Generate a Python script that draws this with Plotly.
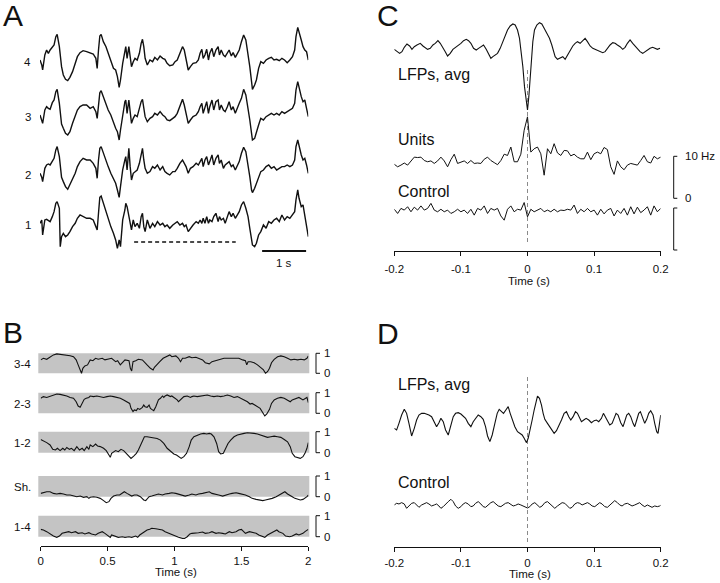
import numpy as np
import plotly.graph_objects as go

W, H = 720, 583
FONT = "Liberation Sans, Arial, Helvetica, sans-serif"
INK = "#111111"

# ====================== DATA ======================
# ---- Panel A: four simultaneously recorded LFP channels (uV), shared time base (s)
a_time = [0.00, 0.04, 0.06, 0.11, 0.15, 0.19, 0.23, 0.28, 0.32, 0.36,
          0.39, 0.44, 0.46, 0.49, 0.53, 0.58, 0.63, 0.68, 0.74, 0.80,
          0.85, 0.91, 0.98, 1.06, 1.14, 1.21, 1.27, 1.30, 1.33, 1.36,
          1.39, 1.44, 1.50, 1.55, 1.61, 1.67, 1.72, 1.76, 1.80, 1.83,
          1.88, 1.93, 1.95, 1.98, 2.02, 2.05, 2.08, 2.12, 2.16, 2.21,
          2.26, 2.30, 2.33, 2.36, 2.39, 2.44, 2.50, 2.56, 2.61, 2.67,
          2.73, 2.79, 2.84, 2.89, 2.95, 3.02, 3.07, 3.12, 3.18, 3.24,
          3.28, 3.32, 3.37, 3.42, 3.48, 3.55, 3.60, 3.64, 3.68, 3.71,
          3.75, 3.79, 3.83, 3.86, 3.91, 3.95, 4.00, 4.05, 4.08, 4.12,
          4.17, 4.21, 4.26, 4.30, 4.35, 4.39, 4.44, 4.48, 4.53, 4.58,
          4.63, 4.68, 4.73, 4.77, 4.81, 4.83, 4.88, 4.92, 4.97, 5.02,
          5.08, 5.14, 5.20, 5.26, 5.32, 5.38, 5.44, 5.50, 5.56, 5.62,
          5.68, 5.74, 5.79, 5.82, 5.86, 5.89, 5.94, 5.98, 6.02, 6.06,
          6.10]
a_ch4 = [0, -150, -300, 150, 300, 200, 300, 400, 450, 700,
         770, 400, 100, -200, -450, -580, -620, -520, -350, -100,
         100, 220, 280, 250, 220, 180, 50, -250, 300, 720,
         770, 550, 400, 200, 0, -250, -300, -500, -820, -600,
         -100, 300, 400, 50, 400, 100, -200, -50, 50, 0,
         200, 500, 620, 400, 50, -150, 0, -50, 80, 0,
         120, 50, 20, -100, -170, -150, -50, 0, 200, 400,
         300, 50, -300, -200, -100, -80, 0, 200, 320, 50,
         150, 320, 0, 200, 350, 100, 300, 400, 150, 300,
         150, 100, 220, 300, 120, 220, 80, 200, 300, 550,
         750, 600, 200, -200, -650, -880, -750, -600, -250, -50,
         -100, 0, 50, 80, 0, 20, -20, 50, 0, -80,
         0, 100, 300, 700, 980, 800, 600, 400, 300, 250,
         0]
a_ch3 = [0, -130, -250, 150, 250, 200, 170, 370, 450, 700,
         770, 350, 50, -270, -400, -550, -600, -500, -250, 0,
         150, 250, 300, 300, 200, 250, 100, -100, 350, 670,
         730, 550, 350, 150, 0, -250, -400, -500, -750, -450,
         50, 400, 450, 50, 450, 50, -250, -100, 0, -50,
         250, 400, 470, 250, -50, -200, -100, -50, 50, 0,
         100, 0, -50, -150, -170, -100, -50, 50, 250, 470,
         300, 0, -250, -150, -50, 0, 100, 250, 350, 50,
         250, 400, 50, 250, 450, 150, 400, 450, 150, 300,
         150, 100, 250, 400, 150, 250, 50, 200, 350, 500,
         770, 600, 250, -150, -550, -750, -700, -500, -300, -100,
         -150, -50, 0, 50, 0, 50, 0, 100, 50, 100,
         150, 200, 350, 750, 1000, 800, 550, 400, 450, 200,
         -50]
a_ch2 = [0, -120, -250, 150, 250, 280, 250, 370, 450, 700,
         800, 500, 200, -120, -250, -400, -480, -350, -200, 0,
         200, 350, 450, 400, 400, 300, 150, -150, 400, 750,
         800, 600, 400, 200, 0, -150, -300, -500, -720, -400,
         100, 400, 500, 100, 750, 200, -200, 0, 50, 100,
         300, 550, 750, 400, 150, 0, 50, 200, 150, 250,
         100, 200, 50, 0, -50, 50, 50, 150, 300, 400,
         300, 200, 0, 150, 200, 300, 250, 350, 450, 200,
         400, 500, 250, 350, 550, 250, 450, 550, 300, 400,
         150, 250, 300, 350, 200, 250, 100, 200, 350, 600,
         780, 650, 300, -100, -500, -580, -450, -300, -100, 50,
         100, 200, 250, 150, 200, 100, 150, 200, 200, 250,
         200, 250, 400, 800, 1000, 800, 550, 400, 450, 250,
         0]
a_ch1 = [0, 100, -350, 100, 120, 80, 50, 200, 350, 600,
         650, 450, -700, -400, -300, -400, -350, -250, -100, 0,
         150, 250, 200, 150, 150, 100, -100, -200, 300, 780,
         820, 600, 350, 100, -100, -300, -500, -750, -500, -700,
         100, 400, 600, 500, 200, 0, -200, 100, -100, 0,
         -150, 200, 300, -100, -250, 100, -150, 0, -100, 50,
         -50, 0, -100, -50, -150, -50, 0, 50, -50, 0,
         -100, -50, -250, -150, -50, 50, 0, 100, 0, 150,
         0, 200, 0, 100, 50, 200, 300, 50, 200, 100,
         150, 0, 200, 350, 200, 300, 150, 250, 350, 550,
         650, 450, 200, -150, -500, -650, -700, -600, -350, -250,
         -50, -150, 50, 0, 100, 150, 50, 250, 100, 200,
         150, 250, 350, 700, 1000, 750, 500, 550, 250, -100,
         -400]
a_channels = ["4", "3", "2", "1"]
a_underline_s = [2.14, 4.45]      # dashed underline below channel 1 (s)
a_scalebar_s = [5.05, 6.05]       # 1 s scale bar
a_scalebar_label = "1 s"

# ---- Panel B: pairwise correlation over 2 s (0..1)
b_pairs = ["3-4", "2-3", "1-2", "Sh.", "1-4"]
b34_t = [0, 0.02, 0.045, 0.07, 0.095, 0.12, 0.145, 0.17, 0.195, 0.22,
         0.245, 0.265, 0.28, 0.295, 0.305, 0.315, 0.33, 0.35, 0.37, 0.39,
         0.41, 0.43, 0.46, 0.48, 0.51, 0.53, 0.56, 0.575, 0.595, 0.615,
         0.63, 0.66, 0.67, 0.68, 0.69, 0.71, 0.73, 0.76, 0.775, 0.795,
         0.82, 0.84, 0.85, 0.87, 0.89, 0.915, 0.94, 0.965, 0.98, 1.01,
         1.03, 1.045, 1.06, 1.08, 1.11, 1.13, 1.16, 1.18, 1.21, 1.23,
         1.26, 1.28, 1.31, 1.33, 1.37, 1.41, 1.445, 1.48, 1.51, 1.53,
         1.54, 1.55, 1.57, 1.595, 1.62, 1.645, 1.665, 1.68, 1.695, 1.71,
         1.725, 1.745, 1.77, 1.795, 1.82, 1.845, 1.87, 1.895, 1.92, 1.945,
         1.97, 1.99, 2.0]
b34_v = [0.67, 0.75, 0.70, 0.83, 0.92, 0.97, 0.95, 0.92, 0.90, 0.88,
         0.83, 0.67, 0.42, 0.17, 0.0, 0.25, 0.37, 0.42, 0.67, 0.63,
         0.75, 0.70, 0.75, 0.67, 0.70, 0.75, 0.58, 0.63, 0.42, 0.58,
         0.67, 0.63, 0.25, 0.12, 0.58, 0.63, 0.70, 0.67, 0.58, 0.42,
         0.25, 0.17, 0.30, 0.47, 0.58, 0.75, 0.83, 0.92, 0.83, 0.87,
         0.75, 0.58, 0.75, 0.75, 0.83, 0.78, 0.80, 0.75, 0.67, 0.53,
         0.47, 0.58, 0.63, 0.70, 0.75, 0.75, 0.75, 0.75, 0.67, 0.63,
         0.42, 0.58, 0.58, 0.53, 0.42, 0.30, 0.17, 0.0, 0.08, 0.25,
         0.53, 0.70, 0.83, 0.87, 0.83, 0.75, 0.67, 0.70, 0.67, 0.70,
         0.67, 0.75, 0.87]
b23_t = [0, 0.02, 0.045, 0.07, 0.095, 0.12, 0.145, 0.17, 0.195, 0.22,
         0.245, 0.265, 0.28, 0.295, 0.31, 0.325, 0.34, 0.36, 0.37, 0.395,
         0.42, 0.445, 0.47, 0.495, 0.52, 0.545, 0.57, 0.595, 0.62, 0.645,
         0.665, 0.675, 0.69, 0.70, 0.715, 0.725, 0.74, 0.76, 0.77, 0.78,
         0.795, 0.81, 0.82, 0.83, 0.845, 0.86, 0.87, 0.88, 0.895, 0.91,
         0.92, 0.93, 0.945, 0.96, 0.97, 0.98, 0.995, 1.01, 1.02, 1.03,
         1.045, 1.06, 1.07, 1.095, 1.12, 1.13, 1.145, 1.17, 1.195, 1.22,
         1.245, 1.27, 1.295, 1.32, 1.345, 1.37, 1.395, 1.42, 1.445, 1.47,
         1.495, 1.52, 1.545, 1.565, 1.58, 1.60, 1.62, 1.64, 1.66, 1.675,
         1.69, 1.71, 1.725, 1.745, 1.77, 1.795, 1.82, 1.845, 1.865, 1.88,
         1.91, 1.93, 1.96, 1.975, 1.99, 2.0]
b23_v = [0.73, 0.81, 0.77, 0.84, 0.89, 0.94, 0.92, 0.89, 0.84, 0.77,
         0.73, 0.56, 0.35, 0.29, 0.48, 0.68, 0.73, 0.77, 0.84, 0.81,
         0.84, 0.81, 0.77, 0.81, 0.84, 0.81, 0.77, 0.73, 0.65, 0.56,
         0.48, 0.24, 0.08, 0.16, 0.13, 0.24, 0.19, 0.29, 0.40, 0.32,
         0.29, 0.40, 0.24, 0.19, 0.13, 0.32, 0.48, 0.65, 0.73, 0.84,
         0.77, 0.84, 0.89, 0.84, 0.81, 0.84, 0.77, 0.73, 0.65, 0.56,
         0.65, 0.73, 0.81, 0.84, 0.77, 0.81, 0.84, 0.81, 0.84, 0.87,
         0.89, 0.84, 0.81, 0.84, 0.81, 0.84, 0.89, 0.84, 0.77, 0.81,
         0.73, 0.65, 0.56, 0.45, 0.48, 0.40, 0.32, 0.24, 0.03, -0.13,
         -0.03, 0.19, 0.48, 0.65, 0.73, 0.77, 0.73, 0.65, 0.56, 0.65,
         0.73, 0.77, 0.65, 0.73, 0.77, 0.52]
b12_t = [0, 0.02, 0.045, 0.07, 0.09, 0.11, 0.125, 0.145, 0.165, 0.18,
         0.195, 0.215, 0.23, 0.25, 0.27, 0.29, 0.31, 0.325, 0.345, 0.36,
         0.37, 0.39, 0.41, 0.425, 0.445, 0.47, 0.49, 0.51, 0.52, 0.53,
         0.56, 0.58, 0.60, 0.62, 0.64, 0.66, 0.675, 0.695, 0.715, 0.73,
         0.745, 0.76, 0.775, 0.795, 0.82, 0.845, 0.87, 0.895, 0.92, 0.945,
         0.97, 0.995, 1.015, 1.03, 1.05, 1.07, 1.09, 1.11, 1.125, 1.145,
         1.17, 1.195, 1.22, 1.24, 1.26, 1.275, 1.295, 1.315, 1.33, 1.345,
         1.365, 1.38, 1.40, 1.42, 1.445, 1.47, 1.495, 1.52, 1.545, 1.57,
         1.595, 1.62, 1.645, 1.67, 1.695, 1.72, 1.745, 1.77, 1.795, 1.82,
         1.845, 1.865, 1.88, 1.90, 1.92, 1.94, 1.96, 1.975, 1.99, 2.0]
b12_v = [0.63, 0.57, 0.48, 0.37, 0.16, 0.13, 0.21, 0.10, 0.21, 0.13,
         0.25, 0.16, 0.21, 0.10, 0.29, 0.13, 0.21, 0.10, 0.29, 0.16,
         0.37, 0.29, 0.41, 0.32, 0.29, 0.21, 0.10, -0.11, -0.22, -0.03,
         0.10, 0.05, 0.16, 0.10, -0.03, -0.16, -0.27, -0.16, -0.03, 0.13,
         0.37, 0.60, 0.76, 0.76, 0.73, 0.73, 0.68, 0.60, 0.44, 0.21,
         0.05, -0.06, -0.11, -0.19, -0.27, -0.19, -0.03, 0.29, 0.60, 0.76,
         0.84, 0.89, 0.92, 0.89, 0.92, 0.89, 0.76, 0.44, 0.05, -0.06,
         -0.03, 0.21, 0.44, 0.60, 0.76, 0.84, 0.89, 0.92, 0.95, 0.95,
         0.92, 0.89, 0.84, 0.79, 0.73, 0.76, 0.79, 0.76, 0.73, 0.63,
         0.52, 0.29, -0.03, -0.19, -0.22, -0.27, -0.19, -0.03, 0.21, 0.48]
bsh_t = [0, 0.02, 0.045, 0.07, 0.095, 0.12, 0.145, 0.17, 0.195, 0.22,
         0.245, 0.27, 0.295, 0.32, 0.345, 0.36, 0.37, 0.395, 0.42, 0.445,
         0.47, 0.49, 0.51, 0.525, 0.545, 0.57, 0.59, 0.61, 0.625, 0.645,
         0.665, 0.68, 0.70, 0.72, 0.745, 0.77, 0.785, 0.795, 0.81, 0.83,
         0.86, 0.88, 0.91, 0.93, 0.96, 0.98, 1.01, 1.03, 1.06, 1.08,
         1.11, 1.13, 1.16, 1.18, 1.21, 1.23, 1.26, 1.28, 1.31, 1.33,
         1.36, 1.38, 1.41, 1.43, 1.46, 1.48, 1.51, 1.53, 1.56, 1.58,
         1.61, 1.63, 1.66, 1.68, 1.71, 1.73, 1.76, 1.78, 1.81, 1.825,
         1.845, 1.865, 1.88, 1.90, 1.92, 1.94, 1.96, 1.975, 1.99, 2.0]
bsh_v = [0.16, 0.19, 0.24, 0.24, 0.16, 0.13, 0.16, 0.13, 0.08, 0.08,
         0.03, 0.0, 0.03, -0.03, 0.0, -0.08, -0.03, 0.0, -0.03, -0.08,
         -0.19, -0.29, -0.24, -0.08, 0.03, 0.08, 0.08, 0.16, 0.24, 0.16,
         0.08, 0.03, 0.08, 0.08, 0.0, -0.16, -0.19, -0.13, 0.0, 0.03,
         0.08, 0.13, 0.08, 0.13, 0.16, 0.19, 0.16, 0.13, 0.08, 0.03,
         0.08, 0.13, 0.08, 0.13, 0.16, 0.19, 0.24, 0.16, 0.13, 0.08,
         0.03, 0.08, 0.13, 0.16, 0.19, 0.16, 0.13, 0.08, 0.0, -0.08,
         -0.13, -0.16, -0.19, -0.16, -0.13, -0.08, 0.0, 0.08, 0.19, 0.24,
         0.13, 0.03, 0.0, -0.08, -0.13, -0.16, -0.13, -0.08, 0.0, 0.08]
b14_t = [0, 0.02, 0.045, 0.07, 0.095, 0.12, 0.14, 0.16, 0.18, 0.21,
         0.23, 0.26, 0.28, 0.31, 0.33, 0.36, 0.38, 0.41, 0.43, 0.46,
         0.48, 0.51, 0.52, 0.53, 0.56, 0.58, 0.61, 0.63, 0.66, 0.68,
         0.71, 0.725, 0.74, 0.76, 0.775, 0.795, 0.815, 0.83, 0.86, 0.88,
         0.91, 0.93, 0.96, 0.98, 1.01, 1.03, 1.06, 1.075, 1.095, 1.115,
         1.13, 1.16, 1.18, 1.21, 1.23, 1.26, 1.28, 1.31, 1.33, 1.36,
         1.38, 1.41, 1.43, 1.46, 1.48, 1.50, 1.515, 1.53, 1.56, 1.58,
         1.61, 1.63, 1.66, 1.675, 1.695, 1.72, 1.745, 1.765, 1.78, 1.81,
         1.83, 1.86, 1.88, 1.91, 1.93, 1.96, 1.975, 1.99, 2.0]
b14_v = [0.35, 0.32, 0.24, 0.13, 0.03, -0.03, 0.03, 0.16, 0.19, 0.24,
         0.19, 0.24, 0.16, 0.19, 0.13, 0.19, 0.13, 0.08, 0.16, 0.24,
         0.16, 0.03, -0.03, 0.08, 0.03, -0.03, 0.0, -0.03, 0.0, -0.03,
         0.03, -0.03, 0.08, 0.16, 0.24, 0.32, 0.35, 0.40, 0.38, 0.35,
         0.32, 0.24, 0.16, 0.08, 0.03, -0.03, -0.08, -0.08, 0.0, 0.13,
         0.16, 0.16, 0.19, 0.22, 0.16, 0.19, 0.24, 0.16, 0.19, 0.16,
         0.13, 0.24, 0.19, 0.24, 0.32, 0.35, 0.24, 0.16, 0.24, 0.22,
         0.16, 0.08, 0.03, -0.03, 0.08, 0.16, 0.24, 0.32, 0.24, 0.16,
         0.03, 0.0, 0.03, 0.13, 0.08, 0.16, 0.24, 0.32, 0.35]
b_ticks = [0, 0.5, 1, 1.5, 2]
b_ticktext = ["0", "0.5", "1", "1.5", "2"]
b_band = [0, 1]

# ---- Panel C: spike-triggered LFP average (uV), unit PSTH and control (Hz)
c_lfp_t = [-0.2, -0.196, -0.192, -0.1885, -0.185, -0.181, -0.177, -0.1735, -0.17, -0.166,
           -0.161, -0.157, -0.1535, -0.15, -0.146, -0.142, -0.1385, -0.1345, -0.131, -0.127,
           -0.1235, -0.12, -0.116, -0.112, -0.108, -0.104, -0.1, -0.096, -0.092, -0.0885,
           -0.085, -0.081, -0.077, -0.0735, -0.07, -0.066, -0.062, -0.058, -0.055, -0.052,
           -0.0485, -0.045, -0.041, -0.037, -0.0335, -0.03, -0.026, -0.022, -0.0185, -0.015,
           -0.012, -0.0095, -0.007, -0.0045, -0.002, 0.0, 0.002, 0.004, 0.006, 0.008,
           0.0105, 0.014, 0.018, 0.0215, 0.025, 0.029, 0.033, 0.0365, 0.039, 0.0415,
           0.045, 0.049, 0.053, 0.0565, 0.06, 0.064, 0.068, 0.0715, 0.075, 0.079,
           0.083, 0.0865, 0.09, 0.094, 0.098, 0.1015, 0.105, 0.109, 0.113, 0.1165,
           0.12, 0.124, 0.128, 0.1315, 0.135, 0.139, 0.143, 0.1465, 0.15, 0.154,
           0.158, 0.1615, 0.165, 0.169, 0.173, 0.1765, 0.18, 0.184, 0.188, 0.1915,
           0.195, 0.199]
c_lfp_v = [2, -5, -10, -5, 8, 18, 12, 2, 10, 15,
           20, 12, 8, 2, 5, 15, 20, 28, 20, 8,
           -5, -18, -10, 2, 8, 12, 20, 28, 32, 28,
           20, 5, 0, 5, 10, 15, 2, -15, -25, -20,
           -15, -10, 5, 25, 45, 60, 72, 78, 75, 60,
           35, 0, -50, -110, -160, -180, -140, -80, -20, 25,
           60, 75, 82, 78, 65, 50, 35, 15, -5, -20,
           -28, -25, -20, -28, -15, 0, 12, 20, 25, 20,
           28, 35, 25, 12, 5, 2, 0, -5, -8, -5,
           5, 15, 22, 20, 15, 10, 2, 8, 20, 30,
           20, 12, 5, -5, -10, -5, 0, 5, 8, 5,
           2, 5]
c_bin_start, c_bin_width = -0.2, 0.005
c_units_hz = [8.1, 7.5, 7.9, 8.4, 7.9, 8.9, 9.8, 9.7, 9.8, 9.0,
              8.7, 8.9, 8.3, 8.9, 9.8, 8.9, 7.5, 9.2, 10.5, 8.3,
              8.7, 8.9, 8.3, 9.0, 8.3, 8.4, 8.3, 9.3, 9.8, 9.0,
              8.5, 8.0, 9.0, 10.5, 10.2, 12.2, 8.7, 8.7, 10.5, 16.2,
              19.4, 11.0, 11.8, 12.2, 10.6, 5.5, 11.8, 10.6, 13.0, 10.8,
              10.2, 11.4, 11.3, 10.1, 10.5, 9.8, 9.4, 9.4, 11.0, 9.2,
              10.6, 11.0, 10.6, 12.1, 11.6, 7.5, 5.7, 8.9, 7.5, 6.8,
              7.9, 8.3, 8.1, 7.9, 9.0, 10.2, 8.7, 8.4, 10.0, 9.4,
              9.8]
c_control_hz = [9.7, 8.7, 9.9, 9.5, 10.3, 9.1, 10.2, 9.5, 10.5, 9.5,
                9.9, 11.1, 9.5, 9.1, 9.7, 9.1, 9.5, 8.7, 9.1, 9.7,
                9.1, 9.5, 8.7, 9.7, 8.3, 9.9, 9.5, 10.5, 8.7, 9.9,
                9.5, 9.9, 8.1, 7.1, 9.7, 10.5, 9.1, 9.7, 9.5, 11.3,
                7.9, 9.7, 9.1, 9.5, 9.9, 9.1, 9.5, 9.1, 9.7, 9.1,
                9.5, 9.4, 9.7, 9.5, 10.7, 8.7, 9.7, 9.1, 9.9, 9.1,
                9.5, 8.3, 9.7, 8.6, 9.5, 9.9, 8.1, 9.5, 8.7, 9.9,
                8.3, 10.3, 8.6, 10.2, 8.9, 9.5, 10.3, 8.3, 10.5, 9.1,
                9.9]
c_scale_hz = 10
cd_ticks = [-0.2, -0.1, 0, 0.1, 0.2]
cd_ticktext = ["-0.2", "-0.1", "0", "0.1", "0.2"]

# ---- Panel D: LFP average (uV) and control
d_lfp_t = [-0.2, -0.1965, -0.193, -0.189, -0.185, -0.1815, -0.178, -0.174, -0.17, -0.1665,
           -0.163, -0.159, -0.155, -0.1515, -0.148, -0.144, -0.14, -0.1365, -0.133, -0.13,
           -0.1265, -0.123, -0.119, -0.1155, -0.1115, -0.108, -0.104, -0.1, -0.0965, -0.093,
           -0.089, -0.085, -0.0815, -0.078, -0.074, -0.07, -0.0665, -0.063, -0.06, -0.0565,
           -0.053, -0.049, -0.0455, -0.0425, -0.039, -0.036, -0.0325, -0.029, -0.026, -0.023,
           -0.019, -0.015, -0.0115, -0.008, -0.005, -0.0015, 0.001, 0.004, 0.007, 0.01,
           0.013, 0.015, 0.018, 0.021, 0.0235, 0.026, 0.03, 0.0335, 0.037, 0.04,
           0.0435, 0.047, 0.051, 0.055, 0.0585, 0.062, 0.065, 0.0685, 0.072, 0.075,
           0.078, 0.081, 0.0845, 0.088, 0.092, 0.096, 0.1, 0.1035, 0.107, 0.111,
           0.114, 0.117, 0.12, 0.1235, 0.127, 0.13, 0.133, 0.136, 0.14, 0.1435,
           0.146, 0.149, 0.152, 0.155, 0.1585, 0.161, 0.164, 0.167, 0.1695, 0.173,
           0.176, 0.179, 0.182, 0.185, 0.1885, 0.191, 0.194, 0.196, 0.1985, 0.2]
d_lfp_v = [-25, -30, -10, 15, 32, 20, -10, -48, -25, 0,
           15, 20, 20, 18, 15, 10, -5, -20, -8, 5,
           -5, -30, -45, -15, 10, 20, 22, 18, 12, 5,
           -10, -20, -5, 5, 15, 10, 2, -20, -48, -65,
           -45, -10, 20, 32, 25, 20, 30, 40, 20, 0,
           -20, -35, -40, -45, -55, -68, -55, -30, 0, 30,
           60, 72, 65, 45, 20, 2, -10, -20, -30, -40,
           -32, -18, 0, 20, 25, 10, 0, 10, 25, 20,
           5, -5, 0, 5, 0, -8, -2, 0, -5, 5,
           20, 10, 0, -15, -10, 5, 20, 15, -8, -20,
           0, 15, 20, 10, -10, -20, 0, 20, 25, 5,
           -10, 2, 20, 28, 15, -10, -35, -40, -5, 15]
d_ctrl_t = [-0.2, -0.1965, -0.193, -0.189, -0.185, -0.1815, -0.178, -0.174, -0.17, -0.1665,
            -0.163, -0.159, -0.155, -0.1515, -0.148, -0.144, -0.14, -0.1365, -0.133, -0.13,
            -0.1265, -0.123, -0.119, -0.115, -0.1115, -0.108, -0.104, -0.1, -0.0965, -0.093,
            -0.089, -0.085, -0.0815, -0.078, -0.074, -0.07, -0.0665, -0.063, -0.059, -0.055,
            -0.0515, -0.048, -0.044, -0.04, -0.0365, -0.033, -0.029, -0.025, -0.0215, -0.018,
            -0.014, -0.01, -0.0065, -0.003, 0.0, 0.0035, 0.007, 0.011, 0.015, 0.0185,
            0.022, 0.026, 0.03, 0.0335, 0.037, 0.041, 0.045, 0.0485, 0.052, 0.056,
            0.06, 0.0635, 0.067, 0.071, 0.075, 0.0785, 0.082, 0.086, 0.09, 0.0935,
            0.097, 0.101, 0.105, 0.1085, 0.112, 0.116, 0.12, 0.1235, 0.127, 0.131,
            0.135, 0.1385, 0.142, 0.146, 0.15, 0.1535, 0.157, 0.161, 0.165, 0.1685,
            0.172, 0.176, 0.18, 0.1835, 0.187, 0.191, 0.195, 0.1985, 0.2]
d_ctrl_v = [5, 10, 8, 12, 8, -5, 2, 10, 12, 5,
            -2, 5, 10, 12, 8, 2, 5, 8, 2, -5,
            0, 8, 15, 22, 15, 2, -5, 0, 8, 12,
            8, 0, 2, 10, 15, 8, 0, -2, 5, 12,
            15, 8, 2, 0, 5, 10, 12, 8, 2, 4,
            8, 5, 2, 0, -4, 0, 8, 12, 5, -2,
            2, 12, 15, 8, 0, -5, 2, 8, 12, 10,
            2, -5, -2, 8, 12, 10, 5, 8, 12, 8,
            2, 0, 8, 12, 8, 0, -2, 5, 12, 18,
            12, 5, 2, 8, 10, 5, 2, 5, 10, 12,
            5, 0, 5, 2, -2, 2, 0, 2, 4]

# ====================== LAYOUT HELPERS ======================
def py(y):            # pixel row -> paper y
    return 1 - y / H

def pxx(x):           # pixel column -> paper x
    return x / W

def ydom(top, bot):
    return [1 - bot / H, 1 - top / H]

def hidden(**kw):
    d = dict(visible=False, showgrid=False, zeroline=False, fixedrange=True, automargin=False)
    d.update(kw)
    return d

def time_axis(dom, rng, pos, vals, text, standoff):
    return dict(domain=dom, range=rng, anchor="free", position=pos, automargin=False,
                showgrid=False, zeroline=False, showline=True, linecolor=INK, linewidth=1,
                ticks="outside", ticklen=4, tickwidth=1, tickcolor=INK,
                tickvals=vals, ticktext=text, ticklabelstandoff=standoff,
                tickfont=dict(size=11.5, color=INK, family=FONT), fixedrange=True)

fig = go.Figure()
layout = {}
shapes = []
annotations = []

def label(x, y, text, size=11.5, xanchor="left", xref="paper", yref="paper"):
    annotations.append(dict(x=x, y=y, xref=xref, yref=yref, text=text, showarrow=False,
                            xanchor=xanchor, yanchor="middle", borderpad=0,
                            font=dict(size=size, color=INK, family=FONT)))

def line(x, y, xa, ya, width=1.1):
    fig.add_trace(go.Scatter(x=x, y=y, xaxis=xa, yaxis=ya, mode="lines",
                             line=dict(color=INK, width=width), hoverinfo="skip"))

# ---- Panel A
layout["xaxis"] = hidden(domain=[pxx(40), pxx(308.3)], range=[0, 6.1], anchor="y")
a_bases = [60, 115, 173.3, 223.3]
a_series = [a_ch4, a_ch3, a_ch2, a_ch1]
for i, (base, ser, name) in enumerate(zip(a_bases, a_series, a_channels)):
    key = "yaxis" if i == 0 else f"yaxis{i + 1}"
    layout[key] = hidden(domain=ydom(base - 35, base + 35), range=[-1050, 1050], anchor="x")
    line(a_time, ser, "x", "y" if i == 0 else f"y{i + 1}", width=1.4)
    label(pxx(27.5), py(base + 2), name, xanchor="center")
shapes.append(dict(type="line", xref="x", yref="paper", x0=a_underline_s[0], x1=a_underline_s[1],
                   y0=py(242), y1=py(242), line=dict(color=INK, width=1.5, dash="4px,3px")))
shapes.append(dict(type="line", xref="x", yref="paper", x0=a_scalebar_s[0], x1=a_scalebar_s[1],
                   y0=py(251), y1=py(251), line=dict(color=INK, width=2)))
annotations.append(dict(x=sum(a_scalebar_s) / 2, y=py(263), xref="x", yref="paper",
                        text=a_scalebar_label, showarrow=False, xanchor="center", yanchor="middle",
                        font=dict(size=11.5, color=INK, family=FONT)))
label(pxx(2), py(15), "A", size=30)

# ---- Panel B
layout["xaxis2"] = time_axis([pxx(40.7), pxx(308.3)], [0, 2], py(546), b_ticks, b_ticktext, 0)
b_bands = [(353.3, 373.3), (392.7, 413.3), (431.7, 452.7), (476, 496.7), (515.7, 536.7)]
b_series = [(b34_t, b34_v), (b23_t, b23_v), (b12_t, b12_v), (bsh_t, bsh_v), (b14_t, b14_v)]
for j, ((top, bot), (bt, bv), name) in enumerate(zip(b_bands, b_series, b_pairs)):
    n = 5 + j
    h = bot - top
    layout[f"yaxis{n}"] = hidden(domain=ydom(top - 0.3 * h, bot + 0.6 * h), range=[-0.6, 1.3], anchor="x2")
    shapes.append(dict(type="rect", xref="paper", yref=f"y{n}", x0=pxx(38.3), x1=pxx(309.3),
                       y0=b_band[0], y1=b_band[1], fillcolor="#c4c4c4", line=dict(width=0), layer="below"))
    line(bt, bv, "x2", f"y{n}", width=1.1)
    label(pxx(12.5), py((top + bot) / 2 + 1), name)
    x0, x1 = pxx(316), pxx(320)
    shapes.append(dict(type="path", xref="paper", yref=f"y{n}",
                       path=f"M {x1},{b_band[1]} L {x0},{b_band[1]} L {x0},{b_band[0]} L {x1},{b_band[0]}",
                       line=dict(color=INK, width=1)))
    label(pxx(323), b_band[1], "1", yref=f"y{n}")
    label(pxx(323), b_band[0], "0", yref=f"y{n}")
label(pxx(175.5), py(572), "Time (s)", xanchor="center")
label(pxx(2), py(332), "B", size=30)

# ---- Panel C
CD_DOM = [pxx(394.3), pxx(660.7)]
layout["xaxis3"] = time_axis(CD_DOM, [-0.2, 0.2], py(251), cd_ticks, cd_ticktext, 3)
layout["yaxis10"] = hidden(domain=ydom(10, 120), range=[-210, 120], anchor="x3")
layout["yaxis11"] = hidden(domain=ydom(97.5, 206.7), range=[-2, 24], anchor="x3")
layout["yaxis12"] = hidden(domain=ydom(182.8, 254.2), range=[-1, 16], anchor="x3")
bins = c_bin_start + c_bin_width * np.arange(len(c_units_hz))
line(c_lfp_t, c_lfp_v, "x3", "y10", width=1.1)
line(bins, c_units_hz, "x3", "y11", width=1.0)
line(bins, c_control_hz, "x3", "y12", width=1.0)
shapes.append(dict(type="line", xref="x3", yref="paper", x0=0, x1=0, y0=py(242), y1=py(70),
                   line=dict(color="#8a8a8a", width=1, dash="4px,3px"), layer="below"))
bx0, bx1 = pxx(673.7), pxx(677.3)
for yr in ("y11", "y12"):
    shapes.append(dict(type="path", xref="paper", yref=yr,
                       path=f"M {bx1},{c_scale_hz} L {bx0},{c_scale_hz} L {bx0},0 L {bx1},0",
                       line=dict(color=INK, width=1)))
label(pxx(684), c_scale_hz, f"{c_scale_hz} Hz", yref="y11")
label(pxx(684), 0, "0", yref="y11")
label(pxx(397), py(74), "LFPs, avg", size=16)
label(pxx(397), py(139.5), "Units", size=16)
label(pxx(397), py(191), "Control", size=16)
label(pxx(528.5), py(281), "Time (s)", xanchor="center")
label(pxx(376), py(15.5), "C", size=30)

# ---- Panel D
layout["xaxis4"] = time_axis(CD_DOM, [-0.2, 0.2], py(546.7), cd_ticks, cd_ticktext, 1)
layout["yaxis13"] = hidden(domain=ydom(386.7, 453.3), range=[-100, 100], anchor="x4")
layout["yaxis14"] = hidden(domain=ydom(493.3, 520), range=[-40, 40], anchor="x4")
line(d_lfp_t, d_lfp_v, "x4", "y13", width=1.1)
line(d_ctrl_t, d_ctrl_v, "x4", "y14", width=1.0)
shapes.append(dict(type="line", xref="x4", yref="paper", x0=0, x1=0, y0=py(542), y1=py(377),
                   line=dict(color="#8a8a8a", width=1, dash="4px,3px"), layer="below"))
label(pxx(397), py(384), "LFPs, avg", size=16)
label(pxx(397), py(482), "Control", size=16)
label(pxx(529.5), py(574), "Time (s)", xanchor="center")
label(pxx(376), py(333), "D", size=30)

fig.update_layout(
    width=W, height=H, autosize=False,
    margin=dict(l=0, r=0, t=0, b=0, pad=0, autoexpand=False),
    paper_bgcolor="white", plot_bgcolor="rgba(0,0,0,0)",
    showlegend=False, font=dict(family=FONT, color=INK),
    shapes=shapes, annotations=annotations,
    **layout,
)
# the page's default 8px body margin would shift the 720x583 figure; remove it
fig.write_html("out.html", config={"displayModeBar": False},
               post_script="document.body.style.margin='0px';")
